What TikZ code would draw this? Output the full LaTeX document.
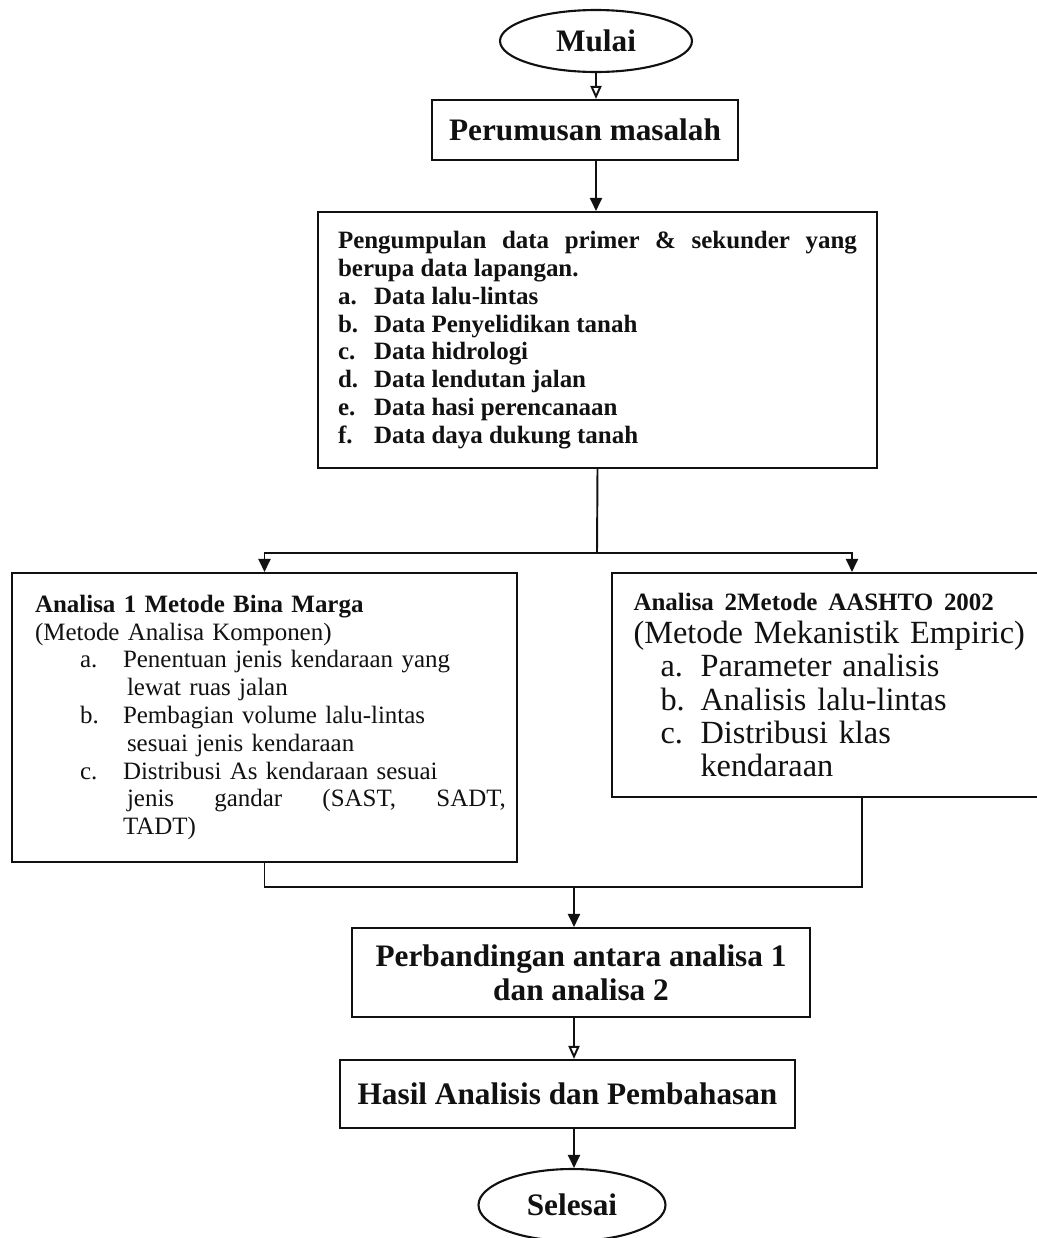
\documentclass[tikz,border=0pt]{standalone}
\usepackage{fontspec}
\setmainfont{Liberation Serif}
\usepackage{tikz}
\usetikzlibrary{arrows.meta,positioning,shapes.geometric}
\definecolor{fcInk}{HTML}{111111}
\newcommand{\fcList}{\fontsize{14.2}{15.8}\selectfont}
\newcommand{\fcHead}{\fontsize{17.8}{19.3}\selectfont}
\newcommand{\fcLarge}{\fontsize{18.4}{19.0}\selectfont}
\newcommand{\dataItem}[2]{\makebox[0.72cm][l]{#1}#2}
\newcommand{\binaItem}[2]{\hspace*{0.9cm}\makebox[0.86cm][l]{#1}#2}
\newcommand{\aashtoItem}[2]{\hspace*{0.54cm}\makebox[0.8cm][l]{#1}#2}
\tikzset{
  fc diagram/.style={x=0.02cm, y=-0.02cm, text=fcInk,
    line cap=butt, line join=miter},
  fc box/.style={draw=fcInk, fill=white, line width=1.2pt, inner sep=0pt},
  fc terminal/.style={fc box, ellipse, font=\fcHead\bfseries},
  fc line/.style={draw=fcInk, line width=1.1pt},
  fc arrow/.style={fc line, -{Triangle[length=0.26cm, width=0.24cm]}},
  fc open arrow/.style={fc line, -{Triangle[open, length=0.26cm, width=0.22cm]}}
}

\begin{document}
\begin{tikzpicture}[fc diagram]
\useasboundingbox (0,0) rectangle (1036,1238);
\node[fc terminal, minimum width=3.84cm, minimum height=1.24cm] (mulai) at (596,41) {Mulai};
\node[fc box, minimum width=6.12cm, minimum height=1.2cm, font=\fcHead\bfseries] (rumusan) at (585,130) {Perumusan masalah};
\node[fc box, minimum width=11.18cm, minimum height=5.12cm, text width=10.38cm, align=justify, font=\fcList\bfseries] (data) at (597.5,340) {Pengumpulan data primer \& sekunder yang berupa data lapangan.\par
  \dataItem{a.}{Data lalu-lintas}\par
  \dataItem{b.}{Data Penyelidikan tanah}\par
  \dataItem{c.}{Data hidrologi}\par
  \dataItem{d.}{Data lendutan jalan}\par
  \dataItem{e.}{Data hasi perencanaan}\par
  \dataItem{f.}{Data daya dukung tanah}};
\node[fc box, minimum width=10.1cm, minimum height=5.78cm, text width=9.18cm, align=left, font=\fcList] (analisa1) at (264.5,717.5) {\textbf{Analisa 1 Metode Bina Marga}\\
  (Metode Analisa Komponen)\\
  \binaItem{a.}{Penentuan jenis kendaraan yang}\\
  \hspace*{1.84cm}lewat ruas jalan\\
  \binaItem{b.}{Pembagian volume lalu-lintas}\\
  \hspace*{1.84cm}sesuai jenis kendaraan\\
  \binaItem{c.}{Distribusi As kendaraan sesuai}\\
  \hspace*{1.84cm}\makebox[7.58cm][l]{jenis\hfill gandar\hfill (SAST,\hfill SADT,}\\
  \hspace*{1.76cm}TADT)};
\node[fc box, minimum width=8.96cm, minimum height=4.48cm, text width=8.1cm, align=left, font=\fcLarge] (analisa2) at (836,685) {{\fcList\bfseries Analisa 2Metode AASHTO 2002}\\
  (Metode Mekanistik Empiric)\\
  \aashtoItem{a.}{Parameter analisis}\\
  \aashtoItem{b.}{Analisis lalu-lintas}\\
  \aashtoItem{c.}{Distribusi klas}\\
  \hspace*{1.34cm}kendaraan};
\node[fc box, minimum width=9.16cm, minimum height=1.78cm, align=center, font=\fcHead\bfseries] (banding) at (581,972.5) {Perbandingan antara analisa 1\\dan analisa 2};
\node[fc box, minimum width=9.1cm, minimum height=1.36cm, font=\fcHead\bfseries] (hasil) at (567.5,1094) {Hasil Analisis dan Pembahasan};
\node[fc terminal, minimum width=3.74cm, minimum height=1.44cm] (selesai) at (572,1205) {Selesai};
\coordinate (split) at (597,553);
\coordinate (merge) at (574,887);
\draw[fc open arrow] (mulai.south) -- (mulai.south |- rumusan.north);
\draw[fc arrow] (mulai |- rumusan.south) -- (mulai |- data.north);
\draw[fc line] (data.south) -- (split);
\draw[fc arrow] (split) -| (analisa1.north);
\draw[fc arrow] (split) -| ([xshift=0.32cm]analisa2.north);
\draw[fc line] (analisa1.south) |- (merge);
\draw[fc line] ([xshift=0.52cm]analisa2.south) |- (merge);
\draw[fc arrow] (merge) -- (merge |- banding.north);
\draw[fc open arrow] (merge |- banding.south) -- (merge |- hasil.north);
\draw[fc arrow] (merge |- hasil.south) -- (merge |- selesai.north);
\end{tikzpicture}
\end{document}
